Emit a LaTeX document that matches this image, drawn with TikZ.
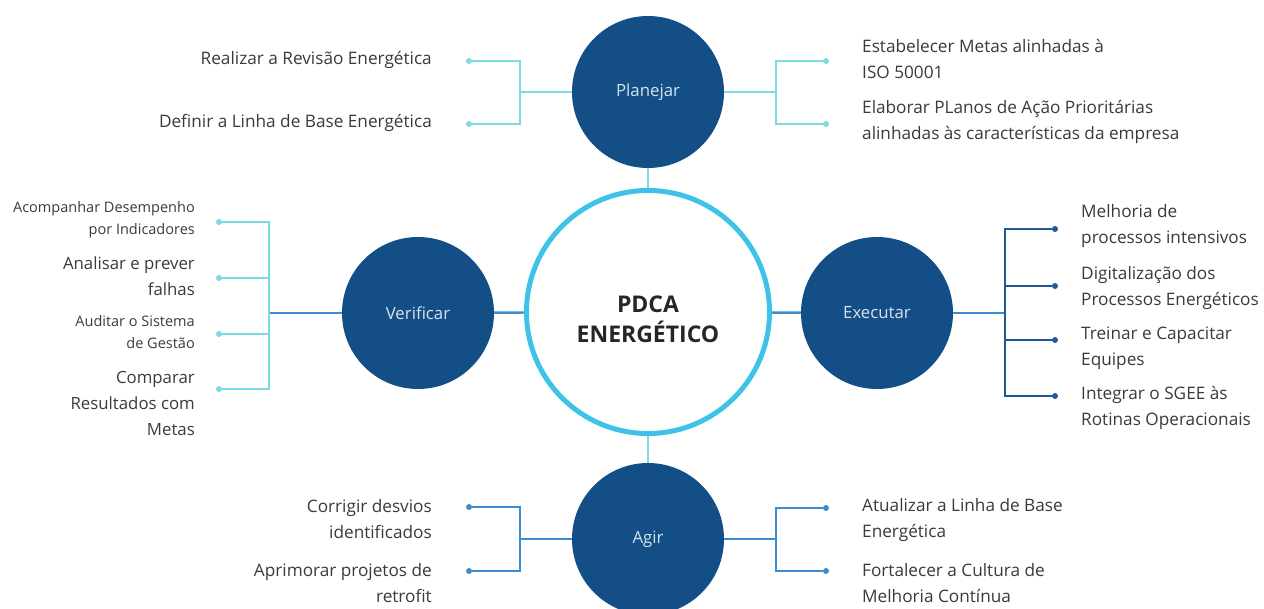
\documentclass[tikz,border=0pt]{standalone}
\usepackage{fontspec}
\setmainfont{Open Sans}
\definecolor{navy}{HTML}{134F86}
\definecolor{ringc}{HTML}{3CC3EA}
\definecolor{lcyan}{HTML}{7ADBE4}
\definecolor{mblue}{HTML}{3B8DD2}
\definecolor{dblue}{HTML}{1E5A96}
\definecolor{txt}{HTML}{3A3A3A}
\definecolor{ctxt}{HTML}{D8E2EC}
\begin{document}
\begin{tikzpicture}[x=1pt,y=-1pt,
  circ/.style={circle,fill=navy,minimum size=152pt,inner sep=0pt,text=ctxt,font=\fontsize{16.8}{20}\selectfont},
  ring/.style={circle,draw=ringc,line width=5pt,minimum size=243pt,inner sep=0pt,align=center,text=black!85,font=\fontsize{23}{30}\selectfont\bfseries},
  lc/.style={draw=lcyan,line width=2.2pt},
  bc/.style={draw=mblue,line width=2.4pt},
  dc/.style={draw=dblue,line width=2.2pt},
  dotl/.style={circle,fill=lcyan,inner sep=0pt,minimum size=6pt},
  dotb/.style={circle,fill=mblue,inner sep=0pt,minimum size=6pt},
  dotd/.style={circle,fill=dblue,inner sep=0pt,minimum size=6pt},
  lab/.style={text=txt,inner sep=0pt,font=\fontsize{17.2}{26}\selectfont},
  labs/.style={text=txt,inner sep=0pt,font=\fontsize{14.5}{22}\selectfont},
  labl/.style={text=txt,inner sep=0pt,font=\fontsize{16.8}{26}\selectfont},
  L/.style={anchor=east,align=right},
  R/.style={anchor=west,align=left}]
\useasboundingbox (0,0) rectangle (1264,608);
% main nodes
\node[ring] (C) at (648,312) {};
\node[text=black!85,font=\fontsize{23}{30}\selectfont\bfseries,align=center,inner sep=0pt] (CT) at (648,319) {PDCA\\ENERGÉTICO};
\node[circ] (P) at (648,92) {Planejar};
\node[circ] (V) at (418,313) {Verificar};
\node[circ] (E) at (877,313) {Executar};
\node[circ] (A) at (648,539) {Agir};
\draw[lc] (P) -- (C);
\draw[lc] (C) -- (A);
\draw[bc] (V) -- (C);
\draw[bc] (C) -- (E);
% Planejar left
\coordinate (pjl) at (520,92);
\node[dotl] (pl1) at (469,61) {};
\node[dotl] (pl2) at (469,124) {};
\draw[lc] (P) -- (pjl);
\draw[lc] (pl1) -| (pjl) |- (pl2);
\node[lab,L] (tpl1) at (432,60) {Realizar a Revisão Energética};
\node[lab,L] (tpl2) at (432,123) {Definir a Linha de Base Energética};
% Planejar right
\coordinate (pjr) at (776,92);
\node[dotl] (pr1) at (826,61) {};
\node[dotl] (pr2) at (826,124) {};
\draw[lc] (P) -- (pjr);
\draw[lc] (pr1) -| (pjr) |- (pr2);
\node[lab,R] (tpr1) at (862,59) {Estabelecer Metas alinhadas à\\ISO 50001};
\node[lab,R] (tpr2) at (862,122) {Elaborar PLanos de Ação Prioritárias\\alinhadas às características da empresa};
% Verificar
\coordinate (vj) at (269,313);
\node[dotl] (v1) at (219,222) {};
\node[dotl] (v2) at (219,278) {};
\node[dotl] (v3) at (219,334) {};
\node[dotl] (v4) at (219,389) {};
\draw[bc] (V) -- (vj);
\draw[lc] (v1) -| (vj) |- (v4);
\draw[lc] (v2) -- (v2 -| vj);
\draw[lc] (v3) -- (v3 -| vj);
\node[labs,L] (tv1) at (195,220) {Acompanhar Desempenho\\por Indicadores};
\node[labl,L] (tv2) at (195,276) {Analisar e prever\\falhas};
\node[labs,L] (tv3) at (195,332) {Auditar o Sistema\\de Gestão};
\node[labl,L] (tv4) at (195,403) {Comparar\\Resultados com\\Metas};
% Executar
\coordinate (ej) at (1005,313);
\node[dotd] (e1) at (1055,229) {};
\node[dotd] (e2) at (1055,286) {};
\node[dotd] (e3) at (1055,340) {};
\node[dotd] (e4) at (1055,396) {};
\draw[bc] (E) -- (ej);
\draw[dc] (e1) -| (ej) |- (e4);
\draw[dc] (e2) -- (e2 -| ej);
\draw[dc] (e3) -- (e3 -| ej);
\node[lab,R] (te1) at (1081,226.5) {Melhoria de\\processos intensivos};
\node[lab,R] (te2) at (1081,288.5) {Digitalização dos\\Processos Energéticos};
\node[lab,R] (te3) at (1081,348) {Treinar e Capacitar\\Equipes};
\node[lab,R] (te4) at (1081,407.5) {Integrar o SGEE às\\Rotinas Operacionais};
% Agir left
\coordinate (ajl) at (520,539);
\node[dotb] (al1) at (469,507) {};
\node[dotb] (al2) at (469,571) {};
\draw[bc] (A) -- (ajl);
\draw[bc] (al1) -| (ajl) |- (al2);
\node[lab,L] (tal1) at (432,519.5) {Corrigir desvios\\identificados};
\node[lab,L] (tal2) at (432,583.5) {Aprimorar projetos de\\retrofit};
% Agir right
\coordinate (ajr) at (776,539);
\node[dotb] (ar1) at (826,508) {};
\node[dotb] (ar2) at (826,571) {};
\draw[bc] (A) -- (ajr);
\draw[bc] (ar1) -| (ajr) |- (ar2);
\node[lab,R] (tar1) at (862,520) {Atualizar a Linha de Base\\Energética};
\node[lab,R] (tar2) at (862,583.5) {Fortalecer a Cultura de\\Melhoria Contínua};
\end{tikzpicture}
\end{document}
